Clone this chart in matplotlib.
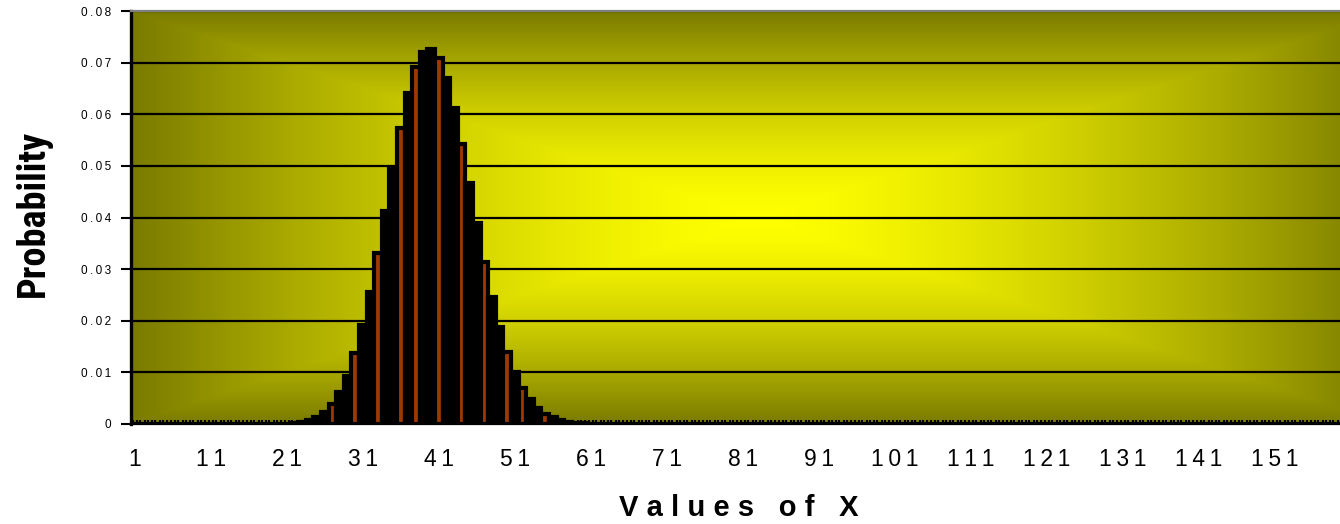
import matplotlib.pyplot as plt
from matplotlib import font_manager
import numpy as np

# probability of each value of X (1..160)
x_values = list(range(1, 161))
prob = ([0.0] * 19 +
        [0.00004, 0.00009, 0.00020, 0.00040, 0.00075, 0.00136, 0.00236, 0.00391,
         0.00618, 0.00938, 0.01366, 0.01909, 0.02565, 0.03316, 0.04129, 0.04955,
         0.05735, 0.06407, 0.06913, 0.07208, 0.07268, 0.07091, 0.06697, 0.06126,
         0.05430, 0.04666, 0.03888, 0.03144, 0.02467, 0.01880, 0.01391, 0.01000,
         0.00699, 0.00475, 0.00314, 0.00201, 0.00126, 0.00077, 0.00045, 0.00026,
         0.00015, 0.00008, 0.00004, 0.00002] +
        [0.0] * 97)
xtick_pos = [1, 11, 21, 31, 41, 51, 61, 71, 81, 91, 101, 111, 121, 131, 141, 151]
ytick_pos = [0, 0.01, 0.02, 0.03, 0.04, 0.05, 0.06, 0.07, 0.08]

THIN = '\u2009'
HAIR = '\u200a'


def spaced(s, sep=THIN):
    return sep.join(s)


# narrow bold face for the y label if one is installed
fonts = font_manager.fontManager.ttflist
narrow = None
for name in ['Roboto Condensed', 'Liberation Sans Narrow', 'Open Sans Condensed']:
    if any(f.name == name for f in fonts):
        narrow = dict(family=name, size=27.5)
        break
if narrow is None:
    cond = [f for f in fonts if f.stretch in ('condensed', 'semi-condensed')
            and (f.weight in ('bold', 'semibold') or (isinstance(f.weight, int) and f.weight >= 600))]
    if cond:
        narrow = dict(family=cond[0].name, fontstretch=cond[0].stretch, size=27.5)
    else:
        narrow = dict(family='Liberation Sans', size=24)

fig = plt.figure(figsize=(13.4, 5.24), dpi=100)
ax = fig.add_axes([131 / 1340, 100 / 524, 1216 / 1340, 413 / 524])

# "from center" gradient fill of the plot area
gx = np.linspace(0.5, 160.5, 900)
gy = np.linspace(0, 0.08, 300)
GX, GY = np.meshgrid(gx, gy)
t = np.maximum(np.abs(GX - 83) / 82.5, np.abs(GY - 0.04) / 0.04)
t = np.clip(t, 0, 1) ** 1.5
inner = np.array([255, 255, 0]) / 255
outer = np.array([122, 122, 0]) / 255
img = inner + (outer - inner) * t[..., None]
ax.imshow(img, extent=[0.5, 160.5, 0, 0.08], origin='lower', aspect='auto',
          interpolation='bilinear', zorder=0)

# every few bars the brown face shows through the black outlines
colors = []
for x in x_values:
    if np.floor((x + 1.2) / 2.8) > np.floor((x + 0.2) / 2.8):
        colors.append('#a03800')
    else:
        colors.append('black')
ax.bar(x_values, prob, width=1.0, color=colors, edgecolor='black',
       linewidth=3.0, zorder=2)

ax.set_xlim(0.5, 160.5)
ax.set_ylim(0, 0.08)

ax.set_yticks(ytick_pos)
ax.set_yticklabels([spaced('0' if v == 0 else '%.2f' % v, THIN) for v in ytick_pos],
                   fontsize=8.5, family='Liberation Sans')
ax.yaxis.grid(True, color='black', linewidth=1.6)
ax.set_axisbelow(True)
ax.tick_params(axis='y', direction='out', length=7, width=1.5, pad=7, color='black')

ax.set_xticks(xtick_pos)
ax.set_xticklabels([spaced(str(v)) for v in xtick_pos], fontsize=16.5, family='Liberation Sans')
ax.set_xticks([x + d for x in x_values for d in (-0.3, 0.3)], minor=True)
ax.tick_params(axis='x', which='major', length=0, pad=17)
ax.tick_params(axis='x', which='minor', direction='in', length=3, width=1.5, color='black')

ax.spines['left'].set_linewidth(2.4)
ax.spines['left'].set_color('black')
ax.spines['bottom'].set_linewidth(1.6)
ax.spines['bottom'].set_color('black')
ax.spines['top'].set_color('#808080')
ax.spines['top'].set_linewidth(1.6)
ax.spines['right'].set_visible(False)

fig.text(739 / 1340, 1 - 516 / 524, spaced('Values of X', THIN + HAIR), ha='center',
         va='baseline', fontsize=21, fontweight='bold', family='Liberation Sans')
fig.text(33 / 1340, 1 - 213 / 524, 'Probability', rotation=90, ha='center', va='center',
         fontweight='bold', **narrow)

fig.savefig('out.png', dpi=100)
